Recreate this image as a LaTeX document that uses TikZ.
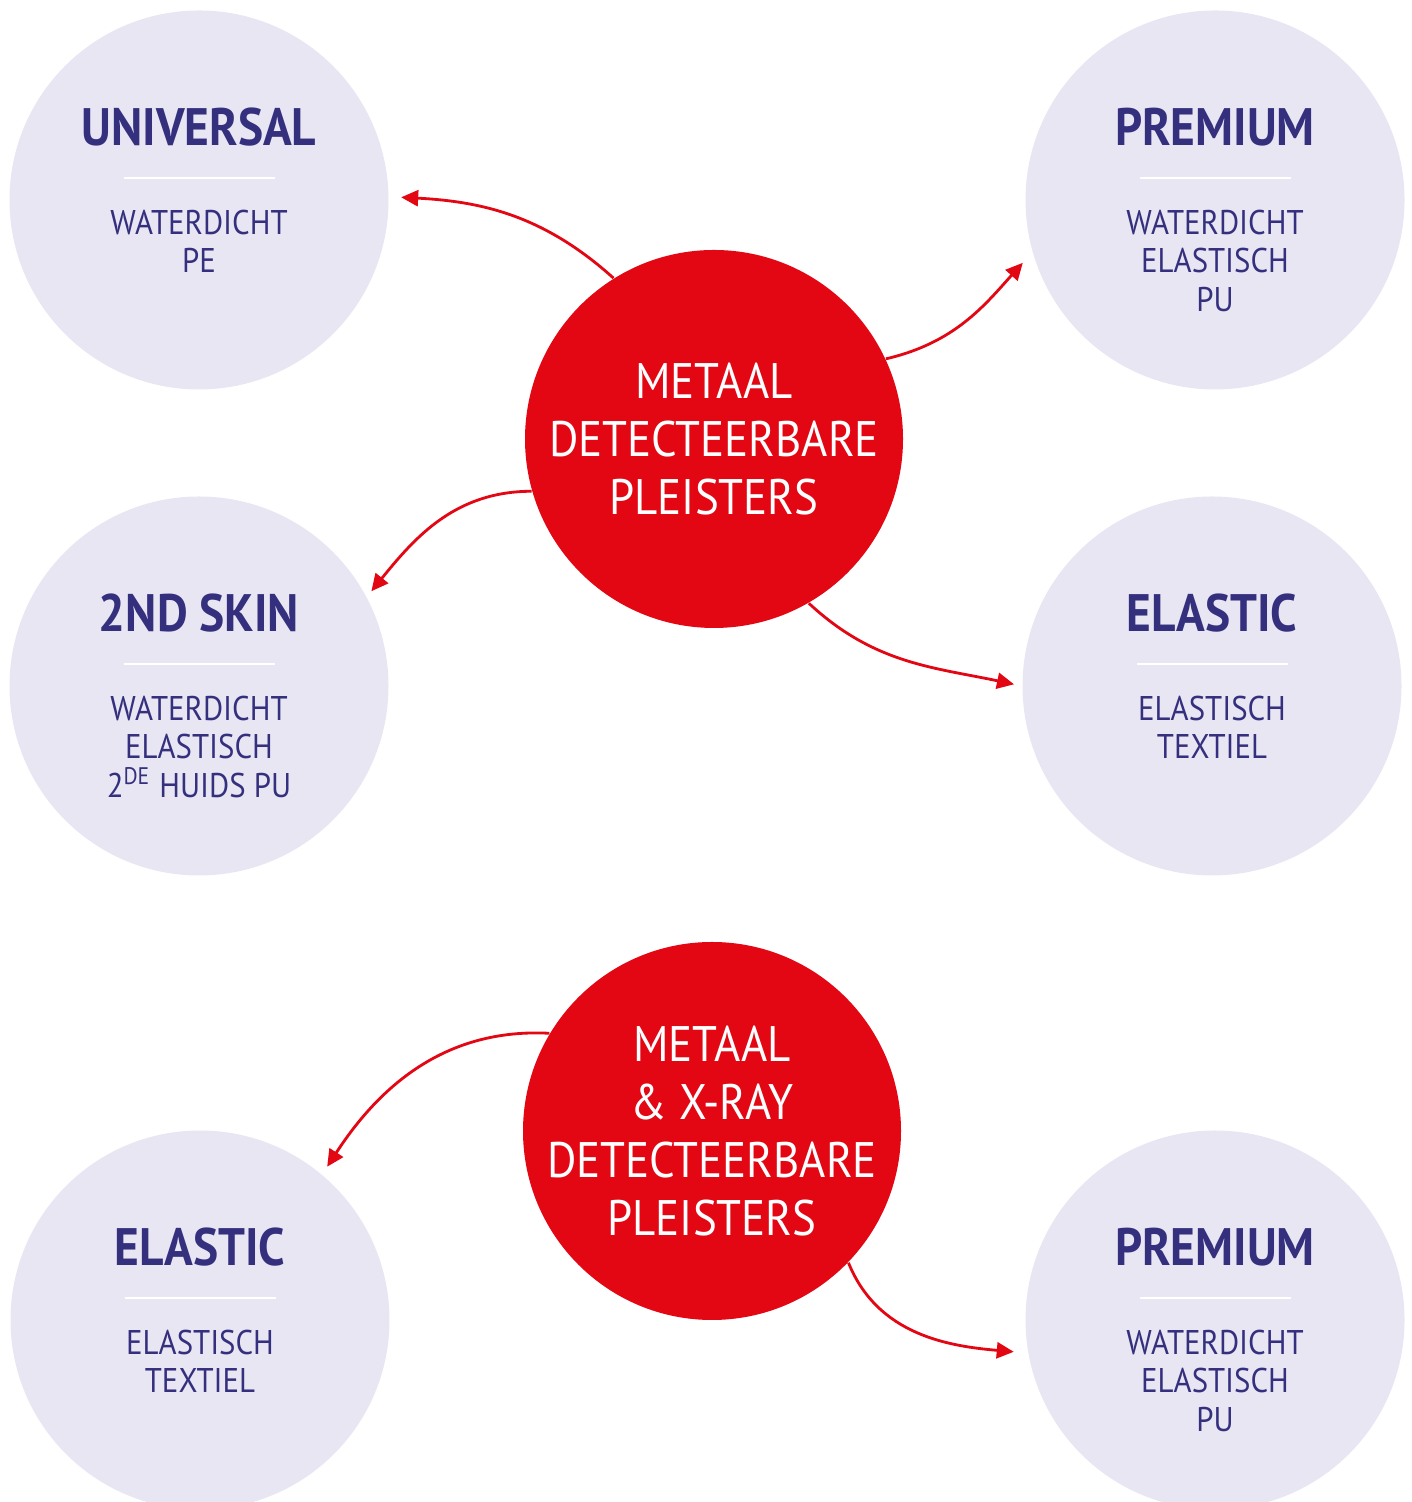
\documentclass[tikz,border=0pt]{standalone}
\usepackage{fontspec}
\setmainfont{PT Sans}[FakeStretch=0.9]
\usetikzlibrary{arrows.meta}
\definecolor{lila}{HTML}{E8E6F3}
\definecolor{inkt}{HTML}{35307E}
\definecolor{rood}{HTML}{E30613}

\begin{document}
\begin{tikzpicture}
		[prod/.style ={circle, fill=lila, minimum size=3.79cm, inner sep=0pt},
		core/.style ={circle, fill=rood, minimum size=3.78cm, inner sep=0pt},
		headline/.style ={font=\bfseries\fontsize{15}{16}\selectfont, text=inkt, inner sep=0pt},
		sub/.style ={font=\fontsize{9.75}{10.95}\selectfont, text=inkt, align=center, inner sep=0pt, anchor=north},
		bar/.style ={draw=white, line width=0.7pt},
		core text/.style ={font=\fontsize{14.2}{16.5}\selectfont, text=white, align=center, inner sep=0pt},
		line/.style ={draw=rood, line width=0.8pt, -{Triangle[length=1.7mm,width=1.6mm]}}]
		\clip (0,0) rectangle (14.11,15.02);

		% product circles
		\node[prod] (univ) at (1.99,13.02) {};
		\node[headline] at ([yshift=7.3mm]univ.center) {UNIVERSAL};
		\draw[bar] ([xshift=-7.55mm,yshift=2.2mm]univ.center) -- ([xshift=7.55mm,yshift=2.2mm]univ.center);
		\node[sub] at ([yshift=-0.9mm]univ.center) {WATERDICHT\\PE};

		\node[prod] (premTop) at (12.15,13.02) {};
		\node[headline] at ([yshift=7.3mm]premTop.center) {PREMIUM};
		\draw[bar] ([xshift=-7.55mm,yshift=2.2mm]premTop.center) -- ([xshift=7.55mm,yshift=2.2mm]premTop.center);
		\node[sub] at ([yshift=-0.9mm]premTop.center) {WATERDICHT\\ELASTISCH\\PU};

		\node[prod] (skin) at (1.99,8.16) {};
		\node[headline] at ([yshift=7.3mm]skin.center) {2ND SKIN};
		\draw[bar] ([xshift=-7.55mm,yshift=2.2mm]skin.center) -- ([xshift=7.55mm,yshift=2.2mm]skin.center);
		\node[sub] at ([yshift=-0.9mm]skin.center) {WATERDICHT\\ELASTISCH\\2\textsuperscript{DE} HUIDS PU};

		\node[prod] (elasRight) at (12.12,8.16) {};
		\node[headline] at ([yshift=7.3mm]elasRight.center) {ELASTIC};
		\draw[bar] ([xshift=-7.55mm,yshift=2.2mm]elasRight.center) -- ([xshift=7.55mm,yshift=2.2mm]elasRight.center);
		\node[sub] at ([yshift=-0.9mm]elasRight.center) {ELASTISCH\\TEXTIEL};

		\node[prod] (elasLeft) at (2.00,1.82) {};
		\node[headline] at ([yshift=7.3mm]elasLeft.center) {ELASTIC};
		\draw[bar] ([xshift=-7.55mm,yshift=2.2mm]elasLeft.center) -- ([xshift=7.55mm,yshift=2.2mm]elasLeft.center);
		\node[sub] at ([yshift=-0.9mm]elasLeft.center) {ELASTISCH\\TEXTIEL};

		\node[prod] (premBot) at (12.15,1.82) {};
		\node[headline] at ([yshift=7.3mm]premBot.center) {PREMIUM};
		\draw[bar] ([xshift=-7.55mm,yshift=2.2mm]premBot.center) -- ([xshift=7.55mm,yshift=2.2mm]premBot.center);
		\node[sub] at ([yshift=-0.9mm]premBot.center) {WATERDICHT\\ELASTISCH\\PU};

		% red circles
		\node[core] (detA) at (7.14,10.63) {};
		\node[core text] at (detA.center) {METAAL\\DETECTEERBARE\\PLEISTERS};
		\node[core] (detB) at (7.12,3.71) {};
		\node[core text] at (detB.center) {METAAL\\\& X-RAY\\DETECTEERBARE\\PLEISTERS};

		% arrows
		\path[line, shorten >=1.2mm] (detA.122) to[out=138, in=-3] (univ.1);
		\path[line, shorten >=1.4mm] (detA.25) to[out=13, in=228] (premTop.196);
		\path[line, shorten >=0.7mm] (detA.196) to[out=180, in=51] (skin.28);
		\path[line, shorten >=0.8mm] (detA.-60) to[out=-43, in=168] (elasRight.180);
		\path[line, shorten >=0.9mm] (detB.149) to[out=177, in=57] (elasLeft.50);
		\path[line, shorten >=1.4mm] (detB.-44) to[out=-68, in=175] (premBot.190);
	\end{tikzpicture}
\end{document}
